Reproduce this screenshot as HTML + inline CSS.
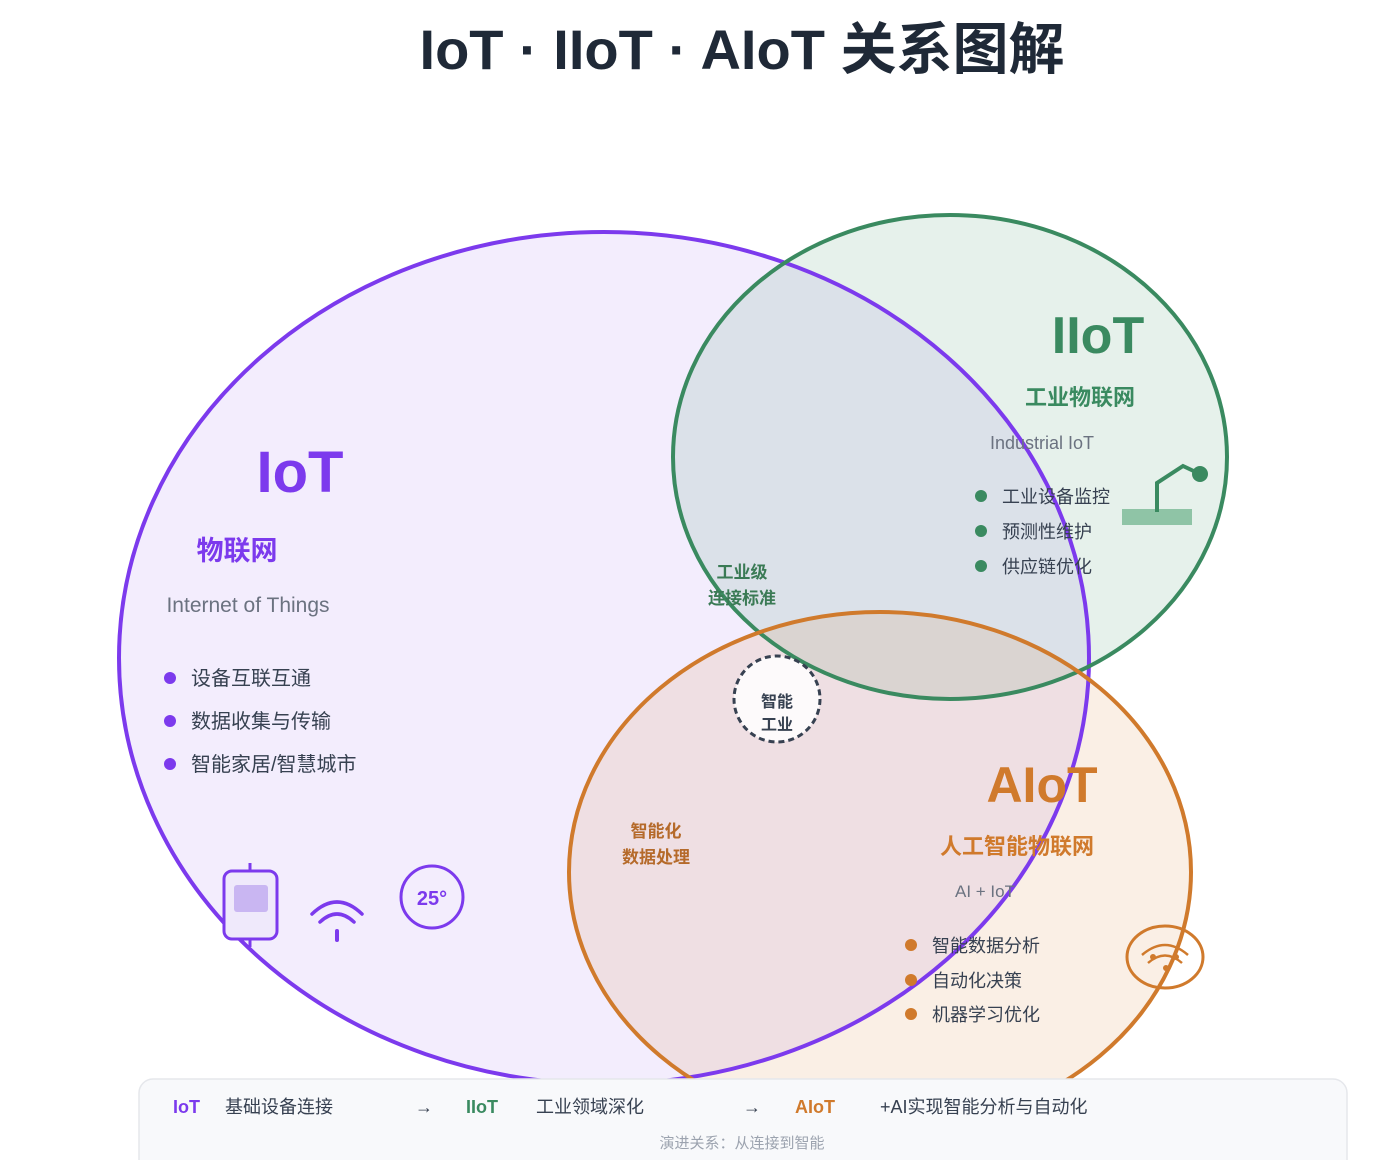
<!DOCTYPE html>
<html><head><meta charset="utf-8"><style>
html,body{margin:0;padding:0;background:#fff;}
body{width:1399px;height:1160px;overflow:hidden;position:relative;font-family:"Liberation Sans","Noto Sans CJK SC",sans-serif;}
</style></head><body>
<svg width="1399" height="1160" viewBox="0 0 1399 1160" xmlns="http://www.w3.org/2000/svg" style="position:absolute;left:0;top:0">
<text x="742" y="69" text-anchor="middle" font-family="Liberation Sans, Noto Sans CJK SC, sans-serif" font-size="56" font-weight="bold" fill="#1f2937">IoT · IIoT · AIoT 关系图解</text>
<g>
<ellipse cx="604" cy="658" rx="485" ry="426" fill="#7c3aed" fill-opacity="0.09"/>
<ellipse cx="950" cy="457" rx="277" ry="242" fill="#2e8b57" fill-opacity="0.12"/>
<ellipse cx="880" cy="872" rx="311" ry="260" fill="#d2782a" fill-opacity="0.12"/>
<ellipse cx="604" cy="658" rx="485" ry="426" fill="none" stroke="#7c3aed" stroke-width="4"/>
<ellipse cx="950" cy="457" rx="277" ry="242" fill="none" stroke="#3a8a60" stroke-width="4"/>
<ellipse cx="880" cy="872" rx="311" ry="260" fill="none" stroke="#d07a2c" stroke-width="4"/>
</g>
<g font-family="Liberation Sans, Noto Sans CJK SC, sans-serif">
<text x="300" y="492" text-anchor="middle" font-size="58" font-weight="bold" fill="#7c3aed">IoT</text>
<text x="237" y="560" text-anchor="middle" font-size="27" font-weight="bold" fill="#7c3aed">物联网</text>
<text x="248" y="612" text-anchor="middle" font-size="21" fill="#6b7280">Internet of Things</text>
<g font-size="20" fill="#374151">
<circle cx="170" cy="678" r="6" fill="#7c3aed"/><text x="191" y="685">设备互联互通</text>
<circle cx="170" cy="721" r="6" fill="#7c3aed"/><text x="191" y="728">数据收集与传输</text>
<circle cx="170" cy="764" r="6" fill="#7c3aed"/><text x="191" y="771">智能家居/智慧城市</text>
</g>
<text x="1098" y="353" text-anchor="middle" font-size="52" font-weight="bold" fill="#3a8a60">IIoT</text>
<text x="1080" y="405" text-anchor="middle" font-size="22" font-weight="bold" fill="#3a8a60">工业物联网</text>
<text x="1042" y="449" text-anchor="middle" font-size="18" fill="#6b7280">Industrial IoT</text>
<g font-size="18" fill="#374151">
<circle cx="981" cy="496" r="6" fill="#3a8a60"/><text x="1002" y="503">工业设备监控</text>
<circle cx="981" cy="531" r="6" fill="#3a8a60"/><text x="1002" y="538">预测性维护</text>
<circle cx="981" cy="566" r="6" fill="#3a8a60"/><text x="1002" y="573">供应链优化</text>
</g>
<rect x="1122" y="509" width="70" height="16" fill="#8fc4a6"/>
<polyline points="1157,512 1157,483 1183,466 1200,474" fill="none" stroke="#3a8a60" stroke-width="4"/>
<circle cx="1200" cy="474" r="8" fill="#3a8a60"/>
<text x="1042" y="802" text-anchor="middle" font-size="50" font-weight="bold" fill="#d07a2c">AIoT</text>
<text x="1017" y="854" text-anchor="middle" font-size="22" font-weight="bold" fill="#d07a2c">人工智能物联网</text>
<text x="985" y="897" text-anchor="middle" font-size="17" fill="#6b7280">AI + IoT</text>
<g font-size="18" fill="#374151">
<circle cx="911" cy="945" r="6" fill="#d07a2c"/><text x="932" y="952">智能数据分析</text>
<circle cx="911" cy="980" r="6" fill="#d07a2c"/><text x="932" y="987">自动化决策</text>
<circle cx="911" cy="1014" r="6" fill="#d07a2c"/><text x="932" y="1021">机器学习优化</text>
</g>
<ellipse cx="1165" cy="957" rx="38" ry="31" fill="none" stroke="#d07a2c" stroke-width="3"/>
<path d="M1142 955 Q1165 935 1188 955 M1148 963 Q1165 948 1182 963" fill="none" stroke="#d07a2c" stroke-width="2.5"/>
<circle cx="1153" cy="957" r="3" fill="#d07a2c"/><circle cx="1176" cy="957" r="3" fill="#d07a2c"/><circle cx="1166" cy="968" r="3" fill="#d07a2c"/>
<text x="742" y="578" text-anchor="middle" font-size="17" font-weight="bold" fill="#3a7a55">工业级</text>
<text x="742" y="604" text-anchor="middle" font-size="17" font-weight="bold" fill="#3a7a55">连接标准</text>
<text x="656" y="837" text-anchor="middle" font-size="17" font-weight="bold" fill="#b56a2a">智能化</text>
<text x="656" y="863" text-anchor="middle" font-size="17" font-weight="bold" fill="#b56a2a">数据处理</text>
<circle cx="777" cy="699" r="43" fill="#ffffff" fill-opacity="0.85" stroke="#374151" stroke-width="3" stroke-dasharray="6 4"/>
<text x="777" y="707" text-anchor="middle" font-size="16" font-weight="bold" fill="#374151">智能</text>
<text x="777" y="730" text-anchor="middle" font-size="16" font-weight="bold" fill="#374151">工业</text>
<!-- IoT icons -->
<line x1="250" y1="863" x2="250" y2="872" stroke="#7c3aed" stroke-width="3"/>
<line x1="250" y1="938" x2="250" y2="947" stroke="#7c3aed" stroke-width="3"/>
<rect x="224" y="871" width="53" height="68" rx="8" fill="#efe9fb" stroke="#7c3aed" stroke-width="3"/>
<rect x="234" y="885" width="34" height="27" rx="3" fill="#c9b6f2"/>
<path d="M312 914 Q337 890 362 914 M320 922 Q337 906 354 922" fill="none" stroke="#7c3aed" stroke-width="3.5" stroke-linecap="round"/>
<line x1="337" y1="931" x2="337" y2="940" stroke="#7c3aed" stroke-width="4" stroke-linecap="round"/>
<circle cx="432" cy="897" r="31" fill="none" stroke="#7c3aed" stroke-width="3"/>
<text x="432" y="905" text-anchor="middle" font-size="20" font-weight="bold" fill="#7c3aed">25°</text>
</g>
<rect x="139" y="1079" width="1208" height="100" rx="14" fill="#f8f9fb" stroke="#e5e7eb" stroke-width="1.5"/>
<g font-family="Liberation Sans, Noto Sans CJK SC, sans-serif" font-size="18">
<text x="173" y="1113" font-weight="bold" fill="#7c3aed">IoT</text>
<text x="225" y="1113" fill="#374151">基础设备连接</text>
<text x="415" y="1113" fill="#374151">→</text>
<text x="466" y="1113" font-weight="bold" fill="#3a8a60">IIoT</text>
<text x="536" y="1113" fill="#374151">工业领域深化</text>
<text x="743" y="1113" fill="#374151">→</text>
<text x="795" y="1113" font-weight="bold" fill="#d07a2c">AIoT</text>
<text x="880" y="1113" fill="#374151">+AI实现智能分析与自动化</text>
<text x="742" y="1148" text-anchor="middle" font-size="15" fill="#9ca3af">演进关系：从连接到智能</text>
</g>
</svg>
</body></html>
